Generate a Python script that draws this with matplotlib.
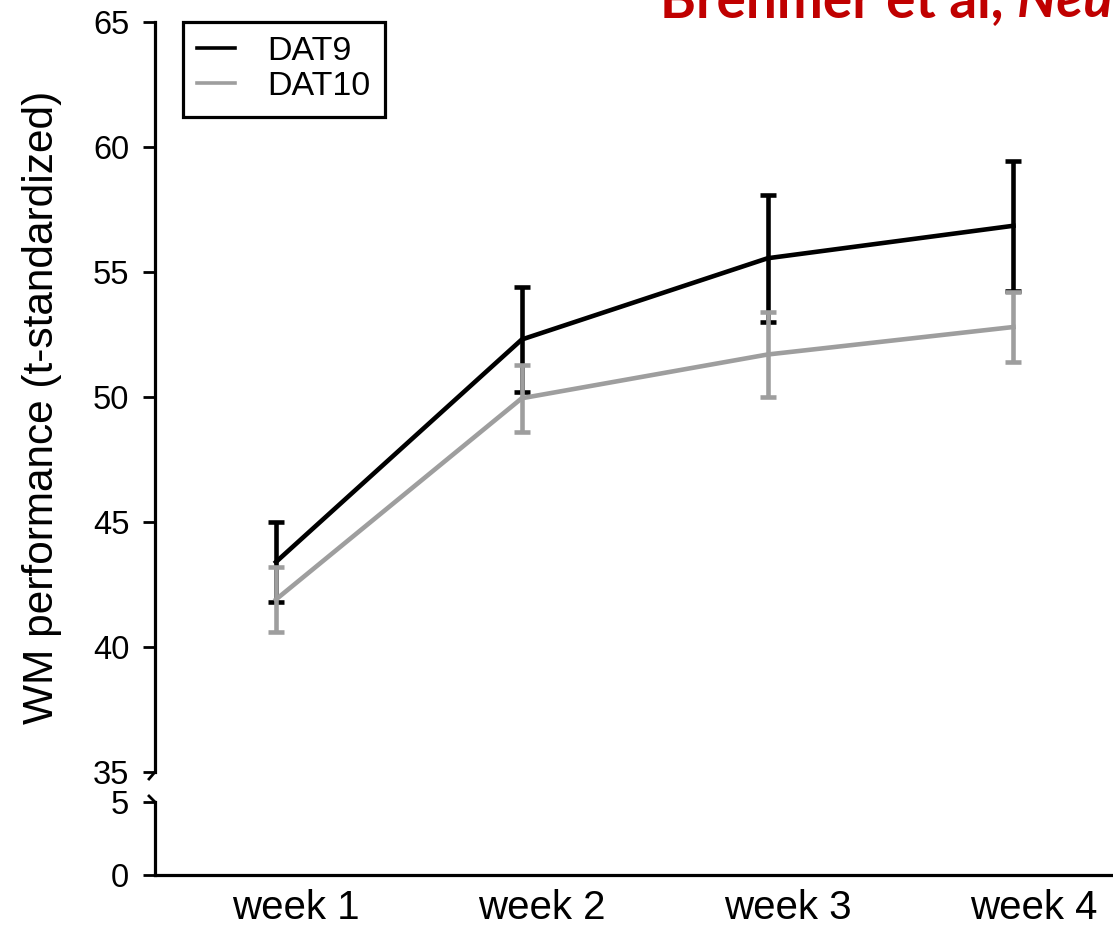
import matplotlib
matplotlib.use("Agg")
import matplotlib.pyplot as plt
import matplotlib.transforms as mtransforms
from matplotlib.lines import Line2D
import numpy as np

# ---- data ----
weeks = ["week 1", "week 2", "week 3", "week 4"]
dat9_mean = [43.4, 52.3, 55.55, 56.85]
dat9_err = [1.6, 2.1, 2.55, 2.6]
dat10_mean = [41.9, 49.95, 51.7, 52.8]
dat10_err = [1.3, 1.35, 1.7, 1.4]
upper_ticks = [35, 40, 45, 50, 55, 60, 65]
lower_ticks = [0, 5]
series_names = ["DAT9", "DAT10"]

plt.rcParams['font.family'] = ['Liberation Sans', 'DejaVu Sans']

W, H = 1113, 926
fig = plt.figure(figsize=(W / 100, H / 100), dpi=100)

def fx(px):
    return px / W

def fy(py):
    return 1 - py / H

left = fx(155)
ax = fig.add_axes([left, fy(772), 1 - left, fy(22) - fy(772)])
axl = fig.add_axes([left, fy(875), 1 - left, fy(802) - fy(875)])

x = np.arange(len(weeks))
xlim = (-0.492, 3.405)

black = "#000000"
grey = "#9e9e9e"
lw = 3.3

ax.errorbar(x, dat9_mean, yerr=dat9_err, color=black, lw=lw, elinewidth=3.3,
            capsize=6, capthick=3.3, zorder=3)
ax.errorbar(x, dat10_mean, yerr=dat10_err, color=grey, lw=lw, elinewidth=3.3,
            capsize=6, capthick=3.3, zorder=4)

for a in (ax, axl):
    a.set_xlim(*xlim)
    for s in ("top", "right"):
        a.spines[s].set_visible(False)
    a.spines["left"].set_linewidth(2.3)
    a.tick_params(axis="y", direction="out", length=8.5, width=2.0,
                  labelsize=23.5, pad=10)

ax.spines["bottom"].set_visible(False)
ax.set_ylim(35, 65)
ax.set_yticks(upper_ticks)
ax.set_xticks([])

axl.set_ylim(0, 5)
axl.set_yticks(lower_ticks)
axl.spines["bottom"].set_linewidth(2.3)
axl.set_xticks(x)
axl.set_xticklabels(weeks, fontsize=29)
axl.tick_params(axis="x", length=0, pad=10)
offset = mtransforms.ScaledTranslation(0.20, 0, fig.dpi_scale_trans)
for lab in axl.get_xticklabels():
    lab.set_transform(lab.get_transform() + offset)

# axis break marks
fig.lines.append(Line2D([fx(155), fx(149)], [fy(772), fy(779)],
                        transform=fig.transFigure, color=black, lw=2.0))
fig.lines.append(Line2D([fx(155), fx(149)], [fy(802), fy(796)],
                        transform=fig.transFigure, color=black, lw=2.0))

fig.text(fx(42), (fy(95) + fy(720)) / 2, "WM performance (t-standardized)",
         rotation=90, fontsize=30.5, ha="center", va="center")

handles = [Line2D([], [], color=black, lw=2.6), Line2D([], [], color=grey, lw=2.6)]
leg = ax.legend(handles, series_names, loc="upper left",
                bbox_to_anchor=(fx(183), fy(22)),
                bbox_transform=fig.transFigure, fontsize=24.5, frameon=True,
                fancybox=False, edgecolor=black, framealpha=1.0,
                handlelength=1.1, handletextpad=0.95, labelspacing=0.12,
                borderpad=0.42, borderaxespad=0)
leg.get_frame().set_linewidth(2.3)

# cut-off citation text at top
t1 = fig.text(fx(660), fy(17), "Brehmer et al, ", color="#c00000",
              fontsize=39.5, fontweight="bold", family=["Lato", "DejaVu Sans"],
              ha="left", va="baseline")
fig.canvas.draw()
bb = t1.get_window_extent()
fig.text(bb.x1 / W, fy(17), "Neurosci Lett", color="#c00000", fontsize=39.5,
         fontweight="bold", style="italic", family=["Lato", "DejaVu Sans"],
         ha="left", va="baseline")

fig.savefig("out.png", dpi=100)
